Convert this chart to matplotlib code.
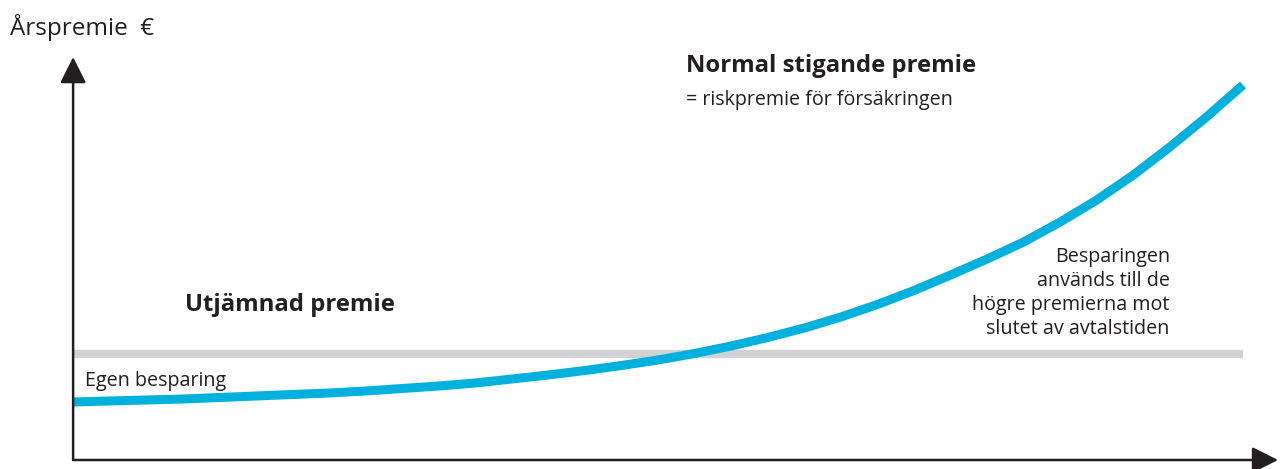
import matplotlib.pyplot as plt

plt.rcParams['font.family'] = ['Open Sans', 'DejaVu Sans']

# contract years and annual premium (arbitrary units)
years = [0, 1.25, 2.5, 3.75, 5, 6.25, 7.5, 8.75, 10, 11.25, 12.5, 13.75, 15, 16.25,
         17.5, 18.75, 20, 21.25, 22.5, 23.75, 25, 26.25, 27.5, 28.75, 30, 31.25,
         32.5, 33.75, 35, 36.25, 37.5, 38.75, 40]
rising_premium = [58, 59, 60, 61, 62.5, 64, 65.5, 67, 69, 71.5, 74, 77, 81, 85,
                  89.5, 94.5, 100, 106.5, 114, 122.5, 132, 143, 155.5, 169.5, 185, 201,
                  218, 238, 260, 285, 313, 343, 375]
level_years = [0, 40]
level_premium = [106, 106]

ink = '#231f20'
blue = '#00b1dd'
grey = '#d1d2d4'

fig = plt.figure(figsize=(12.81, 4.69), dpi=100)
ax = fig.add_axes([0, 0, 1, 1])
ax.set_xlim(-2.5, 41.3)
ax.set_ylim(-9, 460)
ax.axis('off')

ax.plot(level_years, level_premium, color=grey, lw=6, solid_capstyle='butt', zorder=2)
ax.plot(years, rising_premium, color=blue, lw=6.5, solid_capstyle='butt',
        solid_joinstyle='round', zorder=3)

# axes with arrow heads
arrow = dict(arrowstyle='-|>,head_length=0.8,head_width=0.4', color=ink, lw=1.8,
             mutation_scale=20, shrinkA=0, shrinkB=0)
ax.annotate('', xy=(0, 403), xytext=(0, 0), arrowprops=arrow)
ax.annotate('', xy=(41.2, 0), xytext=(0, 0), arrowprops=arrow)

ax.text(-2.15, 433, 'Årspremie  €', fontsize=17.5, color=ink, va='center', ha='left')
ax.text(20.95, 394, 'Normal stigande premie', fontsize=17.2, fontweight='bold', color=ink,
        va='center', ha='left')
ax.text(20.95, 360, '= riskpremie för försäkringen', fontsize=14.2, color=ink,
        va='center', ha='left')
ax.text(3.83, 155, 'Utjämnad premie', fontsize=17.2, fontweight='bold', color=ink,
        va='center', ha='left')
ax.text(0.4, 79, 'Egen besparing', fontsize=14.2, color=ink, va='center', ha='left')
ax.text(37.5, 167, 'Besparingen\nanvänds till de\nhögre premierna mot\nslutet av avtalstiden',
        fontsize=14.2, color=ink, va='center', ha='right', multialignment='right',
        linespacing=1.28)

fig.savefig('out.png', dpi=100)
